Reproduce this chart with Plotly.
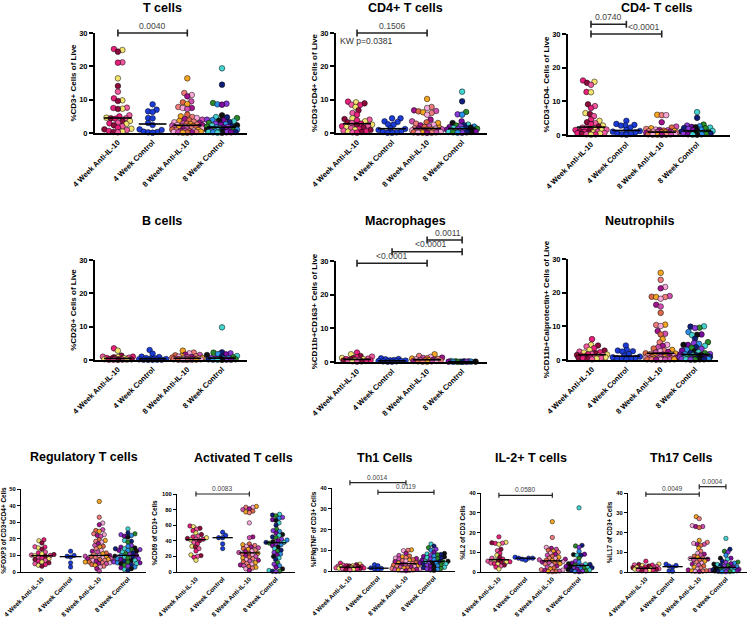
import numpy as np
import plotly.graph_objects as go

groups = ["4 Week Anti-IL-10", "4 Week Control", "8 Week Anti-IL-10", "8 Week Control"]

titles = ["T cells", "CD4+ T cells", "CD4- T cells", "B cells", "Macrophages", "Neutrophils",
          "Regulatory T cells", "Activated T cells", "Th1 Cells", "IL-2+ T cells", "Th17 Cells"]
ytitles = ["%CD3+ Cells of Live", "%CD3+CD4+ Cells of Live", "%CD3+CD4- Cells of Live",
           "%CD20+ Cells of Live", "%CD11b+CD163+ Cells of Live", "%CD11b+Calprotectin+ Cells of Live",
           "%FOXP3 of CD3+CD4+ Cells", "%CD69 of CD3+ Cells", "%IFNgTNF of CD3+ Cells",
           "%IL2 of CD3 Cells", "%IL17 of CD3+ Cells"]
ymax = [30, 30, 30, 30, 30, 30, 50, 100, 40, 40, 40]
ystep = [10, 10, 10, 10, 10, 10, 10, 20, 10, 10, 10]

# ---- T cells
t_a4 = [25.2, 24.9, 24.4, 21.2, 21.1, 16.4, 14.1, 12.4, 10.4, 9.8, 9.6, 7.6, 7.5, 7.3, 7.2, 5.3, 5.0, 4.6,
        4.4, 4.4, 4.3, 3.6, 3.5, 3.1, 2.9, 2.7, 2.3, 2.0, 1.6, 1.3, 1.1, 0.9, 0.6, 0.4, 0.3, 0.2]
t_c4 = [8.6, 7.0, 6.5, 6.3, 4.5, 4.4, 3.0, 2.4, 1.1, 0.9, 0.4, 0.3, 0.2, 0.1]
t_a8 = [16.4, 12.0, 11.4, 11.0, 9.5, 9.2, 8.7, 7.8, 7.5, 7.5, 7.2, 5.5, 5.0, 4.8, 4.5, 4.2, 4.0, 3.8, 3.6,
        3.4, 3.2, 3.0, 2.9, 2.8, 2.6, 2.5, 2.4, 2.3, 2.2, 2.1, 2.0, 2.0, 1.9, 1.8, 1.7, 1.6, 1.5, 1.4, 1.3,
        1.2, 1.1, 1.0, 0.9, 0.8, 0.7, 0.6, 0.5, 0.5, 0.4, 0.3, 0.3, 0.2, 0.2, 0.1, 0.1]
t_c8 = [19.4, 14.5, 9.0, 8.8, 8.6, 8.5, 5.3, 4.8, 4.7, 4.5, 4.0, 3.9, 3.8, 3.7, 3.5, 3.3, 3.0, 2.8, 2.6,
        2.5, 2.3, 2.2, 2.0, 1.9, 1.8, 1.7, 1.6, 1.5, 1.4, 1.3, 1.2, 1.1, 1.0, 1.0, 0.9, 0.8, 0.8, 0.7, 0.6,
        0.5, 0.5, 0.4, 0.3, 0.3, 0.3, 0.2, 0.2, 0.2, 0.1, 0.1]
# ---- CD4+ T cells
cd4p_a4 = [9.4, 9.2, 8.9, 8.5, 8.4, 7.8, 6.8, 6.0, 5.5, 4.4, 4.2, 4.0, 3.8, 3.5, 3.2, 3.0, 2.8, 2.5, 2.4,
           2.2, 2.0, 1.8, 1.6, 1.4, 1.2, 1.0, 0.9, 0.7, 0.5, 0.4, 0.3, 0.2, 0.1]
cd4p_c4 = [4.4, 4.4, 3.5, 3.3, 2.6, 2.5, 1.4, 1.2, 0.9, 0.5, 0.3, 0.2, 0.1, 0.1]
cd4p_a8 = [10.2, 7.8, 7.5, 6.8, 6.6, 6.5, 6.2, 6.0, 5.5, 4.0, 3.5, 3.2, 3.0, 2.8, 2.5, 2.3, 2.0, 1.8, 1.6,
           1.4, 1.3, 1.2, 1.1, 1.0, 1.0, 0.9, 0.8, 0.7, 0.6, 0.5, 0.5, 0.4, 0.3, 0.3, 0.2, 0.2, 0.1, 0.1,
           0.1, 0.05]
cd4p_c8 = [12.4, 9.5, 6.3, 5.6, 5.5, 3.5, 3.0, 2.5, 2.3, 2.2, 2.0, 1.9, 1.8, 1.6, 1.5, 1.4, 1.3, 1.2, 1.1,
           1.0, 0.9, 0.8, 0.7, 0.6, 0.5, 0.5, 0.4, 0.3, 0.3, 0.2, 0.2, 0.1, 0.1]
# ---- CD4- T cells
cd4n_a4 = [16.2, 15.8, 15.5, 14.9, 12.8, 12.7, 9.1, 8.6, 8.0, 6.5, 6.2, 5.6, 4.6, 4.2, 3.8, 3.5, 3.2, 2.8,
           2.5, 2.2, 2.0, 1.9, 1.8, 1.6, 1.5, 1.4, 1.2, 1.0, 0.9, 0.8, 0.7, 0.6, 0.5, 0.4, 0.3, 0.2, 0.2, 0.1]
cd4n_c4 = [4.2, 3.3, 3.0, 2.8, 2.8, 2.2, 1.5, 1.2, 1.0, 0.8, 0.5, 0.3, 0.2, 0.1]
cd4n_a8 = [6.0, 5.9, 5.9, 3.8, 2.5, 2.2, 2.0, 1.8, 1.6, 1.5, 1.4, 1.3, 1.2, 1.1, 1.0, 1.0, 0.9, 0.8, 0.8,
           0.7, 0.6, 0.6, 0.5, 0.5, 0.4, 0.4, 0.3, 0.3, 0.2, 0.2, 0.1, 0.1, 0.1, 0.05]
cd4n_c8 = [6.8, 5.1, 3.1, 2.8, 2.6, 2.4, 2.3, 2.2, 2.1, 2.0, 1.8, 1.6, 1.5, 1.3, 1.2, 1.0, 0.9, 0.8, 0.7,
           0.6, 0.5, 0.5, 0.4, 0.3, 0.3, 0.2, 0.2, 0.1, 0.1]
# ---- B cells
b_a4 = [3.5, 2.8, 1.3, 1.0, 1.0, 0.9, 0.8, 0.7, 0.6, 0.5, 0.4, 0.3, 0.3, 0.2, 0.2, 0.1, 0.1, 0.1, 0.05, 0.05]
b_c4 = [3.0, 1.9, 1.0, 0.9, 0.6, 0.5, 0.4, 0.3, 0.2, 0.1, 0.1, 0.1, 0.05, 0.05]
b_a8 = [2.8, 2.2, 2.0, 1.6, 1.5, 1.4, 1.2, 1.1, 1.0, 0.9, 0.8, 0.7, 0.6, 0.5, 0.5, 0.4, 0.4, 0.3, 0.3,
        0.2, 0.2, 0.2, 0.1, 0.1, 0.1, 0.05, 0.05]
b_c8 = [9.8, 2.3, 2.2, 2.0, 1.8, 1.7, 1.5, 1.2, 1.0, 0.8, 0.6, 0.5, 0.4, 0.3, 0.3, 0.2, 0.2, 0.1, 0.1,
        0.1, 0.05, 0.05]
# ---- Macrophages
m_a4 = [2.8, 2.3, 1.8, 1.6, 1.4, 1.2, 1.1, 1.0, 0.9, 0.8, 0.7, 0.6, 0.5, 0.5, 0.4, 0.3, 0.3, 0.2, 0.2, 0.1]
m_c4 = [1.1, 0.9, 0.8, 0.6, 0.5, 0.4, 0.3, 0.3, 0.2, 0.2, 0.1, 0.1]
m_a8 = [2.3, 1.8, 1.5, 1.3, 1.2, 1.1, 1.0, 0.9, 0.8, 0.7, 0.6, 0.5, 0.5, 0.4, 0.3, 0.3, 0.2, 0.2, 0.1, 0.1]
m_c8 = [0.3, 0.2, 0.2, 0.2, 0.1, 0.1, 0.1, 0.1, 0.05, 0.05, 0.05, 0.05]
# ---- Neutrophils
n_a4 = [6.2, 4.5, 4.3, 4.0, 3.5, 3.0, 2.8, 2.5, 2.3, 2.2, 2.0, 1.8, 1.7, 1.6, 1.5, 1.4, 1.3, 1.2, 1.1,
        1.0, 0.9, 0.8, 0.7, 0.6, 0.5, 0.4, 0.3, 0.2]
n_c4 = [4.3, 3.0, 2.8, 2.6, 2.5, 1.8, 1.3, 1.0, 0.8, 0.6, 0.5, 0.4, 0.3, 0.2]
n_a8 = [25.9, 23.8, 21.7, 21.3, 19.0, 18.8, 18.7, 18.7, 18.2, 16.4, 15.9, 14.0, 10.5, 10.4, 10.1, 8.6, 7.8,
        7.6, 6.2, 5.2, 4.5, 4.2, 3.8, 3.4, 3.0, 2.8, 2.6, 2.4, 2.2, 2.0, 1.9, 1.8, 1.7, 1.6, 1.5, 1.4, 1.3,
        1.2, 1.1, 1.0, 0.9, 0.9, 0.8, 0.7, 0.6, 0.6, 0.5, 0.5, 0.4, 0.4, 0.3, 0.3, 0.2, 0.2, 0.2, 0.15,
        0.1, 0.1, 0.1]
n_c8 = [10.0, 9.9, 9.6, 9.5, 8.3, 7.6, 7.5, 7.4, 6.3, 5.3, 5.0, 4.8, 4.5, 4.5, 4.2, 3.8, 3.6, 3.3, 3.0,
        2.8, 2.5, 2.3, 2.1, 2.0, 1.8, 1.7, 1.6, 1.5, 1.4, 1.4, 1.3, 1.2, 1.2, 1.1, 1.0, 1.0, 0.9, 0.8,
        0.8, 0.7, 0.6, 0.5, 0.5, 0.4, 0.4, 0.3, 0.3, 0.3, 0.2, 0.2, 0.2, 0.1, 0.1]
# ---- Regulatory T cells
treg_a4 = [19.4, 18.8, 17.5, 15.2, 15.0, 14.5, 13.8, 12.0, 11.5, 11.0, 10.5, 10.2, 10.0, 9.8, 9.5, 9.0,
           8.5, 8.0, 7.5, 7.0, 6.5, 6.0, 5.5, 5.0, 4.5, 4.0, 3.5]
treg_c4 = [12.5, 10.0, 9.5, 9.0, 5.5, 3.0]
treg_a8 = [42.5, 33.0, 29.5, 28.5, 25.5, 25.0, 24.5, 23.0, 22.5, 22.0, 21.5, 19.5, 19.0, 18.5, 18.0, 17.0,
           16.0, 15.5, 15.0, 14.0, 13.0, 12.5, 12.0, 11.5, 11.0, 10.5, 10.0, 10.0, 9.5, 9.0, 9.0, 8.5, 8.5,
           8.0, 8.0, 7.5, 7.5, 7.0, 7.0, 6.5, 6.5, 6.0, 6.0, 5.5, 5.5, 5.0, 5.0, 4.5, 4.0, 3.5, 3.0, 2.0, 0.5]
treg_c8 = [26.0, 23.5, 23.0, 22.5, 22.0, 21.5, 21.0, 19.0, 18.5, 18.0, 16.0, 15.5, 15.0, 14.5, 14.0, 14.0,
           13.5, 13.5, 13.0, 13.0, 12.5, 12.0, 11.5, 11.0, 10.5, 10.0, 10.0, 9.5, 9.0, 9.0, 8.5, 8.0, 8.0,
           7.5, 7.0, 7.0, 6.5, 6.0, 6.0, 5.5, 5.5, 5.0, 5.0, 4.5, 4.0, 3.5, 3.0, 2.5, 2.0, 1.5, 1.0]
# ---- Activated T cells
act_a4 = [59, 58, 56, 55, 53, 50, 48, 46, 45, 44, 43, 42, 42, 41, 40, 38, 36, 33, 32, 30, 27, 22, 21, 20, 19, 15]
act_c4 = [51, 47, 44, 44, 36, 30]
act_a8 = [84, 83, 83, 81, 80, 78, 77, 76, 63, 45, 44, 36, 35, 34, 33, 32, 31, 30, 29, 28, 27, 26, 25, 24, 24,
          23, 22, 21, 20, 19, 18, 17, 16, 15, 14, 13, 12, 11, 10, 9, 8, 7, 6, 5, 4, 2]
act_c8 = [74, 73, 72, 70, 69, 67, 66, 63, 60, 55, 53, 52, 50, 48, 47, 45, 44, 42, 41, 40, 39, 38, 38, 37, 36,
          35, 34, 32, 30, 28, 27, 25, 23, 22, 20, 18, 16, 12, 10, 8, 6, 4, 2, 1, 1, 0.5]
# ---- Th1 cells
th1_a4 = [3.8, 3.3, 3.0, 2.8, 2.6, 2.5, 2.4, 2.3, 2.2, 2.1, 2.0, 1.9, 1.8, 1.7, 1.6, 1.5, 1.4, 1.3, 1.2, 1.1,
          1.0, 0.8, 0.6, 0.5]
th1_c4 = [3.0, 2.5, 1.5, 1.2, 1.0, 0.8]
th1_a8 = [10.2, 10.0, 9.8, 8.5, 7.5, 7.2, 6.8, 6.5, 6.2, 6.0, 5.8, 5.5, 5.2, 5.0, 4.8, 4.5, 4.2, 4.0, 3.8,
          3.6, 3.5, 3.3, 3.0, 2.8, 2.6, 2.4, 2.2, 2.0, 1.8, 1.6, 1.4, 1.2, 1.0, 0.8, 0.6, 0.5, 0.4, 0.3, 0.2, 0.1]
th1_c8 = [13.0, 12.0, 11.2, 10.5, 10.0, 9.0, 8.5, 8.2, 8.0, 7.8, 7.5, 7.2, 7.0, 6.8, 6.5, 6.2, 6.0, 5.8, 5.5,
          5.2, 4.7, 4.6, 4.5, 4.4, 4.2, 4.0, 3.8, 3.6, 3.4, 3.2, 3.0, 2.8, 2.5, 2.2, 2.0, 1.8, 1.5, 1.2, 1.0,
          0.8, 0.5, 0.3]
# ---- IL-2+ T cells
il2_a4 = [17.8, 15.0, 14.8, 14.6, 14.5, 14.0, 11.5, 10.8, 9.5, 8.5, 7.5, 7.0, 6.5, 6.0, 5.8, 5.5, 5.2, 5.0,
          4.8, 4.5, 4.2, 4.0, 3.5, 3.0, 2.5, 1.5]
il2_c4 = [7.5, 7.0, 7.0, 7.0, 6.5, 6.0]
il2_a8 = [25.5, 17.5, 12.5, 12.0, 11.5, 11.0, 10.5, 10.0, 9.5, 9.0, 8.5, 8.0, 7.5, 7.0, 6.8, 6.5, 6.2, 6.0,
          5.8, 5.5, 5.2, 5.0, 4.8, 4.5, 4.2, 4.0, 3.5, 3.0, 2.5, 2.0, 1.5, 1.2, 1.0, 0.8, 0.5, 0.3, 0.2, 0.1]
il2_c8 = [32.5, 13.5, 13.2, 12.5, 10.5, 9.0, 8.8, 8.5, 8.5, 7.0, 5.5, 5.0, 4.5, 4.2, 4.0, 3.8, 3.4, 3.2,
          3.0, 2.8, 2.6, 2.4, 2.2, 2.0, 1.8, 1.6, 1.4, 1.2, 1.0, 0.8, 0.6, 0.4, 0.2, 0.1]
# ---- Th17 cells
th17_a4 = [5.5, 4.0, 3.8, 3.6, 3.5, 3.3, 3.0, 2.8, 2.6, 2.4, 2.2, 2.0, 1.8, 1.8, 1.7, 1.6, 1.5, 1.4, 1.3,
           1.2, 1.0, 0.8, 0.6, 0.5]
th17_c4 = [4.0, 3.3, 3.0, 2.4, 0.5, 0.3]
th17_a8 = [28.0, 27.0, 23.5, 23.0, 23.0, 22.5, 16.0, 15.0, 14.5, 14.0, 14.0, 13.5, 12.0, 10.5, 9.5, 9.0,
           8.5, 8.0, 7.5, 7.0, 6.8, 6.5, 6.2, 6.0, 5.5, 5.0, 4.5, 4.0, 3.5, 3.0, 2.5, 2.0, 1.5, 1.0, 0.8,
           0.6, 0.5, 0.4, 0.3, 0.2]
th17_c8 = [17.0, 11.5, 10.5, 10.0, 8.5, 7.0, 7.0, 6.5, 5.5, 5.0, 4.8, 4.5, 4.2, 4.0, 3.8, 3.5, 3.2, 3.0,
           2.6, 2.4, 2.2, 2.0, 1.8, 1.6, 1.5, 1.4, 1.3, 1.2, 1.1, 1.0, 0.9, 0.8, 0.7, 0.6, 0.5, 0.4, 0.3,
           0.2, 0.1, 0.1]

panel_data = [
    [t_a4, t_c4, t_a8, t_c8], [cd4p_a4, cd4p_c4, cd4p_a8, cd4p_c8], [cd4n_a4, cd4n_c4, cd4n_a8, cd4n_c8],
    [b_a4, b_c4, b_a8, b_c8], [m_a4, m_c4, m_a8, m_c8], [n_a4, n_c4, n_a8, n_c8],
    [treg_a4, treg_c4, treg_a8, treg_c8], [act_a4, act_c4, act_a8, act_c8], [th1_a4, th1_c4, th1_a8, th1_c8],
    [il2_a4, il2_c4, il2_a8, il2_c8], [th17_a4, th17_c4, th17_a8, th17_c8],
]

# significance brackets: (panel, from group, to group, label, height as fraction of y domain, label x shift px)
brackets = [
    (0, 0, 2, "0.0040", 1.0, 0), (1, 0, 2, "0.1506", 1.0, 0),
    (2, 0, 1, "0.0740", 1.096, 0), (2, 0, 2, "<0.0001", 1.0, 18),
    (4, 0, 2, "<0.0001", 0.977, 0), (4, 1, 3, "<0.0001", 1.092, 4), (4, 2, 3, "0.0011", 1.208, 3),
    (7, 0, 2, "0.0083", 1.0, 0), (8, 0, 2, "0.0014", 1.064, 0), (8, 1, 3, "0.0119", 0.948, 0),
    (9, 0, 2, "0.0580", 0.97, 0), (10, 0, 2, "0.0049", 0.985, 0), (10, 2, 3, "0.0004", 1.08, 0),
]

# ---------- styling / geometry ----------
W, H = 750, 618
boxes = [  # x0, x1, ytop, ybottom in pixels
    (95, 247, 33, 133), (336, 487, 33, 133), (568, 730, 34, 135),
    (95, 247, 260, 360), (336, 487, 261, 362), (568, 718, 259, 360),
    (21, 146, 489, 572), (177, 295, 494, 572), (332, 455, 488, 571), (481, 598, 493, 572), (628, 747, 493, 572),
]
xranges = [(-0.66, 3.72), (-0.6, 3.71), (-0.65, 3.93), (-0.66, 3.72), (-0.6, 3.71), (-0.7, 3.67),
           (-0.73, 3.63), (-0.71, 3.71), (-0.64, 3.75), (-0.67, 3.71), (-0.67, 3.79)]
title_pos = [(162, 8), (405, 8), (657, 8), (162, 221), (405, 221), (639, 221),
             (84, 457), (243, 458), (385, 458), (531, 458), (681, 458)]

palettes = [
    ["#e8207c", "#f2e46e", "#8c0c3c", "#f05aa0"],
    ["#1c3cd8"],
    ["#f5a623", "#f07c7c", "#f7a8d8", "#a0148c", "#d050b0", "#e06848"],
    ["#44d4d0", "#10207a", "#2a8a2a", "#8a3ad8", "#2a90e8", "#7a0aa0", "#111111"],
]

FONT = "Arial, Liberation Sans, sans-serif"


def swarm(vals, px_unit, px_cat, diam, half_cat):
    maxw = half_cat * px_cat
    ys = np.asarray(vals, float) * px_unit
    n = len(ys)
    xs = np.zeros(n)
    steps = np.arange(0, maxw + 1e-9, 0.5)
    order = np.argsort(ys, kind="stable")
    placed = []
    for k, i in enumerate(order):
        sgn = 1 if k % 2 == 0 else -1
        cands = [0.0]
        for s in steps[1:]:
            cands += [sgn * s, -sgn * s]
        cands = np.array(cands)
        if placed:
            p = np.array(placed)
            p = p[np.abs(p[:, 1] - ys[i]) < diam]
        else:
            p = np.zeros((0, 2))
        if len(p) == 0:
            xs[i] = 0.0
        else:
            d = np.hypot(cands[:, None] - p[None, :, 0], ys[i] - p[None, :, 1]).min(axis=1)
            ok = np.where(d >= diam)[0]
            xs[i] = cands[ok[0]] if len(ok) else cands[np.argmax(d)]
        placed.append((xs[i], ys[i]))
    return xs / px_cat


fig = go.Figure()
layout = dict(width=W, height=H, margin=dict(l=0, r=0, t=0, b=0, autoexpand=False), showlegend=False,
              template="none",
              plot_bgcolor="white", paper_bgcolor="white", font=dict(family=FONT, color="black"))
annotations = []
shapes = []

for p in range(11):
    x0, x1, yt, yb = boxes[p]
    small = p >= 6
    xr = xranges[p]
    px_cat = (x1 - x0) / (xr[1] - xr[0])
    px_unit = (yb - yt) / ymax[p]
    msize = 4.4 if small else 5.6
    suffix = "" if p == 0 else str(p + 1)
    xa, ya = "x" + suffix, "y" + suffix
    for g in range(4):
        vals = panel_data[p][g]
        offs = swarm(vals, px_unit, px_cat, msize * 0.8, 0.5 if small else 0.44)
        cols = [palettes[g][i % len(palettes[g])] for i in range(len(vals))]
        fig.add_trace(go.Scatter(
            x=g + offs, y=vals, mode="markers", xaxis=xa, yaxis=ya, cliponaxis=False,
            marker=dict(size=msize, color=cols, line=dict(color="black", width=0.5)),
            hoverinfo="y"))
    for g in range(4):
        med = float(np.median(panel_data[p][g]))
        hw = 0.38 if small else 0.4
        fig.add_trace(go.Scatter(
            x=[g - hw, g + hw], y=[med, med], mode="lines", xaxis=xa, yaxis=ya, cliponaxis=False,
            line=dict(color="black", width=1.3 if small else 1.6), hoverinfo="skip"))

    lw = 1.2 if small else 2
    layout["xaxis" + suffix] = dict(
        domain=[x0 / W, x1 / W], range=list(xr), anchor=ya, showline=True, linecolor="black",
        linewidth=lw, showgrid=False, zeroline=False, ticks="", tickmode="array", automargin=False,
        tickvals=[0, 1, 2, 3], ticktext=groups, tickangle=-45,
        tickfont=dict(size=6.4 if small else 7.6, weight="bold", color="black"))
    layout["yaxis" + suffix] = dict(
        domain=[1 - yb / H, 1 - yt / H], range=[0, ymax[p]], anchor=xa, showline=True, automargin=False,
        linecolor="black", linewidth=lw, showgrid=False, zeroline=False, ticks="outside",
        ticklen=3 if small else 4, tickwidth=1 if small else 1.5, tickcolor="black",
        tick0=0, dtick=ystep[p],
        tickfont=dict(size=5.8 if small else 7.5, weight="bold", color="black"),
        title=dict(text=ytitles[p], standoff=3 if small else 1,
                   font=dict(size=6.4 if small else 8, weight="bold", color="black")))
    tx, ty = title_pos[p]
    annotations.append(dict(text=titles[p], x=tx / W, y=1 - ty / H, xref="paper", yref="paper",
                            showarrow=False, xanchor="center", yanchor="middle",
                            font=dict(size=12.5, weight="bold", color="black")))

for (p, i, j, lab, lev, xs_px) in brackets:
    small = p >= 6
    suffix = "" if p == 0 else str(p + 1)
    x0, x1, yt, yb = boxes[p]
    cap = (2.5 if small else 3.5) / (yb - yt)
    xa, yd = "x" + suffix, "y" + suffix + " domain"
    lw = 1.2 if small else 1.6
    shapes.append(dict(type="line", xref=xa, yref=yd, x0=i, x1=j, y0=lev, y1=lev,
                       line=dict(color="#222", width=lw)))
    for xx in (i, j):
        shapes.append(dict(type="line", xref=xa, yref=yd, x0=xx, x1=xx, y0=lev - cap, y1=lev + cap,
                           line=dict(color="#222", width=lw)))
    annotations.append(dict(text=lab, x=(i + j) / 2, y=lev + cap * 0.4, xref=xa, yref=yd,
                            showarrow=False, xanchor="center", yanchor="bottom", xshift=xs_px,
                            borderpad=0, font=dict(size=6.6 if small else 8.6, color="#444")))

annotations.append(dict(text="KW p=0.0381", x=338 / W, y=1 - 41 / H, xref="paper", yref="paper",
                        showarrow=False, xanchor="left", yanchor="middle",
                        font=dict(size=8.6, color="#333")))

layout["annotations"] = annotations
layout["shapes"] = shapes
fig.update_layout(**layout)
fig.write_html("out.html", config={"displayModeBar": False},
               post_script="document.body.style.margin='0px';document.body.style.overflow='hidden';")
